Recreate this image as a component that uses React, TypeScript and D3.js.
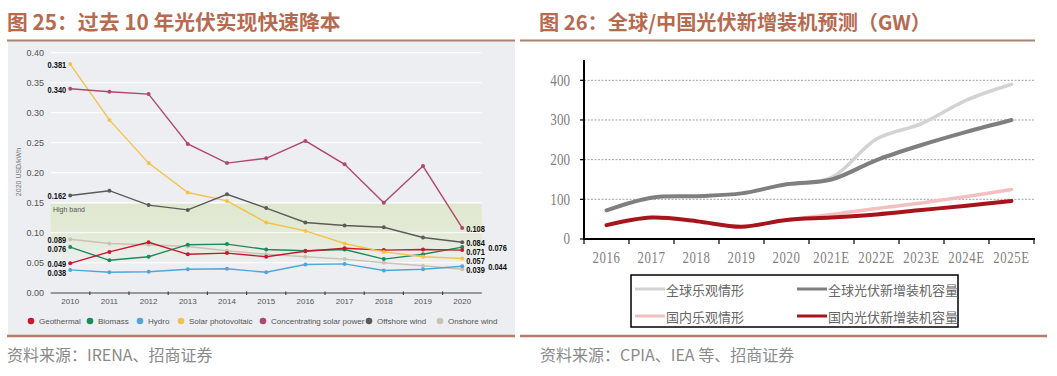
import React from "react";
import * as d3 from "d3";

// ---------- Left chart data (2020 USD/kWh) ----------
const years = ["2010", "2011", "2012", "2013", "2014", "2015", "2016", "2017", "2018", "2019", "2020"];
const geothermal = [0.049, 0.068, 0.084, 0.064, 0.066, 0.06, 0.069, 0.074, 0.071, 0.072, 0.071];
const biomass = [0.076, 0.054, 0.06, 0.08, 0.081, 0.072, 0.07, 0.072, 0.056, 0.064, 0.076];
const hydro = [0.038, 0.034, 0.035, 0.039, 0.04, 0.034, 0.047, 0.048, 0.037, 0.039, 0.044];
const solarPV = [0.381, 0.288, 0.216, 0.167, 0.153, 0.117, 0.103, 0.082, 0.068, 0.06, 0.057];
const csp = [0.34, 0.335, 0.331, 0.248, 0.216, 0.224, 0.253, 0.214, 0.15, 0.211, 0.108];
const offshoreWind = [0.162, 0.17, 0.146, 0.138, 0.164, 0.141, 0.117, 0.112, 0.109, 0.092, 0.084];
const onshoreWind = [0.089, 0.082, 0.08, 0.077, 0.07, 0.064, 0.06, 0.056, 0.05, 0.045, 0.039];
const leftTicks = [0, 0.05, 0.1, 0.15, 0.2, 0.25, 0.3, 0.35, 0.4];

// ---------- Right chart data (GW) ----------
const fcYears = ["2016", "2017", "2018", "2019", "2020", "2021E", "2022E", "2023E", "2024E", "2025E"];
const globalNew = [72, 104, 108, 115, 138, 150, 199, 237, 270, 300];
const globalOpt = [null, null, null, null, 138, 155, 252, 291, 350, 390];
const chinaNew = [35, 54, 45, 31, 48, 54, 62, 73, 84, 96];
const chinaOpt = [null, null, null, null, 48, 62, 77, 91, 107, 125];
const rightTicks = [0, 100, 200, 300, 400];

const leftSeries = [
  { name: "Onshore wind", color: "#c9c3b6", values: onshoreWind, side: "in" },
  { name: "Hydro", color: "#4fa6da", values: hydro, side: "out" },
  { name: "Biomass", color: "#1d8a5c", values: biomass, side: "out" },
  { name: "Geothermal", color: "#c8172f", values: geothermal, side: "in" },
  { name: "Solar photovoltaic", color: "#f4c24a", values: solarPV, side: "in" },
  { name: "Offshore wind", color: "#5b5b5b", values: offshoreWind, side: "in" },
  { name: "Concentrating solar power", color: "#b1466f", values: csp, side: "in" },
];
const legendOrder = ["Geothermal", "Biomass", "Hydro", "Solar photovoltaic", "Concentrating solar power", "Offshore wind", "Onshore wind"];

const rightSeries = [
  { name: "全球乐观情形", color: "#d3d3d3", values: globalOpt, width: 3.5 },
  { name: "国内乐观情形", color: "#f2c0c0", values: chinaOpt, width: 3.5 },
  { name: "全球光伏新增装机容量", color: "#7f7f7f", values: globalNew, width: 4 },
  { name: "国内光伏新增装机容量", color: "#a8141b", values: chinaNew, width: 4 },
];

const TITLE = "#b66a50";
const RULE = "#a68373";

// push labels apart so they keep a minimum vertical gap
function spread(items: { y: number; text: string; key: string }[], gap: number) {
  const sorted = [...items].sort((a, b) => a.y - b.y);
  for (let i = 1; i < sorted.length; i++) {
    if (sorted[i].y - sorted[i - 1].y < gap) sorted[i].y = sorted[i - 1].y + gap;
  }
  return sorted;
}

export default function App() {
  // Left scales
  const xL = d3.scalePoint<string>().domain(years).range([50.6, 481.8]).padding(0.5);
  const yL = d3.scaleLinear().domain([0, 0.4]).range([292.7, 52.7]);
  const stepL = xL.step();
  const lineL = d3
    .line<number>()
    .x((_, i) => xL(years[i]) as number)
    .y((d) => yL(d));

  // Right scales
  const xR = d3.scaleBand<string>().domain(fcYears).range([584, 1034]);
  const yR = d3.scaleLinear().domain([0, 400]).range([239, 80.3]);
  const cx = (i: number) => (xR(fcYears[i]) as number) + xR.bandwidth() / 2;
  const lineR = d3
    .line<number | null>()
    .defined((d) => d !== null)
    .x((_, i) => cx(i))
    .y((d) => yR(d as number))
    .curve(d3.curveCatmullRom.alpha(0.5));

  const lastX = xL(years[years.length - 1]) as number;
  const firstX = xL(years[0]) as number;

  const legendX = [31, 90, 140, 181, 263, 369, 440];

  const sans = "'Liberation Sans', Arial, sans-serif";
  const cjk = "'Noto Sans CJK SC', sans-serif";
  const serif = "'Liberation Serif', 'DejaVu Serif', serif";

  const firstLabels = spread(
    leftSeries.map((s) => ({ y: yL(s.values[0]) + 0.5, text: s.values[0].toFixed(3), key: s.name })),
    9
  );
  const lastIn = spread(
    leftSeries
      .filter((s) => s.side === "in")
      .map((s) => ({ y: yL(s.values[s.values.length - 1]) + 0.5, text: s.values[s.values.length - 1].toFixed(3), key: s.name })),
    9
  );
  const lastOut = spread(
    leftSeries
      .filter((s) => s.side === "out")
      .map((s) => ({ y: yL(s.values[s.values.length - 1]) + 0.5, text: s.values[s.values.length - 1].toFixed(3), key: s.name })),
    9
  );

  const valueLabel = (x: number, y: number, text: string, anchor: "start" | "end", key: string) => (
    <text
      key={key}
      transform={`translate(${x},${y}) scale(0.8,1)`}
      textAnchor={anchor}
      dominantBaseline="central"
      fontFamily={sans}
      fontWeight={700}
      fontSize={9.3}
      fill="#111"
    >
      {text}
    </text>
  );

  return (
    <div style={{ position: "absolute", left: 0, top: 0 }}>
      <svg width={1057} height={376} viewBox="0 0 1057 376" style={{ display: "block", background: "#fff" }}>
        <defs>
          <linearGradient id="band" x1="0" y1="0" x2="0" y2="1">
            <stop offset="0%" stopColor="#dfe8cf" stopOpacity={1} />
            <stop offset="55%" stopColor="#e2ead4" stopOpacity={0.9} />
            <stop offset="100%" stopColor="#e8eddf" stopOpacity={0.2} />
          </linearGradient>
        </defs>

        {/* ---------------- Left chart ---------------- */}
        <text x={7} y={30} fontFamily={cjk} fontWeight={700} fontSize={20.8} fill={TITLE}>
          图 25：过去 10 年光伏实现快速降本
        </text>
        <rect x={8} y={41} width={507} height={294} fill="#eceef1" />
        <line x1={7} x2={515} y1={40.5} y2={40.5} stroke={RULE} strokeWidth={2} />

        {/* high band */}
        <rect x={50.6} y={yL(0.148)} width={481.8 - 50.6} height={yL(0.05) - yL(0.148)} fill="url(#band)" />
        <text x={53} y={yL(0.148) + 8} fontFamily={sans} fontSize={7} fill="#555">
          High band
        </text>

        {/* gridlines */}
        {leftTicks
          .filter((t) => t > 0)
          .map((t) => (
            <line key={t} x1={50.6} x2={481.8} y1={yL(t)} y2={yL(t)} stroke="#ffffff" strokeWidth={1} />
          ))}
        {leftTicks.map((t) => (
          <text key={t} x={44} y={yL(t)} textAnchor="end" dominantBaseline="central" fontFamily={sans} fontSize={9} fill="#555">
            {t.toFixed(2)}
          </text>
        ))}
        <text
          transform={`translate(18,${172}) rotate(-90)`}
          textAnchor="middle"
          dominantBaseline="central"
          fontFamily={sans}
          fontSize={7}
          fill="#777"
        >
          2020 USD/kWh
        </text>

        {/* x axis */}
        <line x1={50.6} x2={481.8} y1={293} y2={293} stroke="#444" strokeWidth={1.2} />
        {years.map((yr, i) => (
          <g key={yr}>
            {i > 0 && (
              <line x1={(xL(yr) as number) - stepL / 2} x2={(xL(yr) as number) - stepL / 2} y1={291.5} y2={295} stroke="#444" strokeWidth={1.2} />
            )}
            <text x={xL(yr) as number} y={301} textAnchor="middle" dominantBaseline="central" fontFamily={sans} fontSize={8} fill="#555">
              {yr}
            </text>
          </g>
        ))}

        {/* series */}
        {leftSeries.map((s) => (
          <g key={s.name}>
            <path d={lineL(s.values) || ""} fill="none" stroke={s.color} strokeWidth={1.4} />
            {s.values.map((v, i) => (
              <circle key={i} cx={xL(years[i]) as number} cy={yL(v)} r={2} fill={s.color} />
            ))}
          </g>
        ))}

        {/* value labels */}
        {firstLabels.map((l) => valueLabel(firstX - 4, l.y, l.text, "end", "f" + l.key))}
        {lastIn.map((l) => valueLabel(lastX + 4, l.y, l.text, "start", "li" + l.key))}
        {lastOut.map((l) => valueLabel(lastX + 26, l.y, l.text, "start", "lo" + l.key))}

        {/* legend */}
        {legendOrder.map((name, i) => {
          const s = leftSeries.find((d) => d.name === name)!;
          return (
            <g key={name}>
              <circle cx={legendX[i]} cy={321} r={3.3} fill={s.color} />
              <text x={legendX[i] + 8} y={321} dominantBaseline="central" fontFamily={sans} fontSize={8} fill="#555">
                {name}
              </text>
            </g>
          );
        })}
        <line x1={7} x2={515} y1={336} y2={336} stroke="#b67c6b" strokeWidth={2.5} />
        <text x={7} y={361} fontFamily={cjk} fontSize={16} fill="#8a8a8a">
          资料来源：IRENA、招商证券
        </text>

        {/* ---------------- Right chart ---------------- */}
        <text x={539} y={30} fontFamily={cjk} fontWeight={700} fontSize={20.2} fill={TITLE}>
          图 26：全球/中国光伏新增装机预测（GW）
        </text>
        <line x1={520} x2={1035} y1={40.5} y2={40.5} stroke={RULE} strokeWidth={2} />

        {rightTicks
          .filter((t) => t > 0)
          .map((t) => (
            <line key={t} x1={584} x2={1034} y1={yR(t)} y2={yR(t)} stroke="#8c8c8c" strokeWidth={0.8} strokeDasharray="2,1.5" />
          ))}
        {rightTicks.map((t) => (
          <g key={t}>
            <line x1={580} x2={584} y1={yR(t)} y2={yR(t)} stroke="#000" strokeWidth={1.2} />
            <text
              transform={`translate(570,${yR(t)}) scale(0.82,1)`}
              textAnchor="end"
              dominantBaseline="central"
              fontFamily={serif}
              fontSize={16}
              fill="#808080"
            >
              {t}
            </text>
          </g>
        ))}

        {rightSeries.map((s) => (
          <path key={s.name} d={lineR(s.values) || ""} fill="none" stroke={s.color} strokeWidth={s.width} strokeLinecap="round" />
        ))}

        <line x1={584} x2={584} y1={60} y2={240} stroke="#000" strokeWidth={2} />
        <line x1={583} x2={1035} y1={239} y2={239} stroke="#000" strokeWidth={2} />
        {fcYears.map((yr) => (
          <line key={"t" + yr} x1={xR(yr) as number} x2={xR(yr) as number} y1={239} y2={244} stroke="#000" strokeWidth={1.2} />
        ))}
        <line x1={1034} x2={1034} y1={239} y2={244} stroke="#000" strokeWidth={1.2} />
        {fcYears.map((yr, i) => (
          <text
            key={yr}
            transform={`translate(${cx(i)},257) scale(0.8,1)`}
            textAnchor="middle"
            dominantBaseline="central"
            fontFamily={serif}
            fontSize={16}
            fill="#808080"
            letterSpacing={0.8}
          >
            {yr}
          </text>
        ))}

        {/* legend */}
        <rect x={631} y={275} width={327} height={52} fill="#fff" stroke="#000" strokeWidth={1.5} />
        {[
          { s: rightSeries[0], x: 635, y: 289 },
          { s: rightSeries[2], x: 797, y: 289 },
          { s: rightSeries[1], x: 635, y: 316 },
          { s: rightSeries[3], x: 797, y: 316 },
        ].map(({ s, x, y }) => (
          <g key={s.name + "leg"}>
            <line x1={x} x2={x + 30} y1={y} y2={y} stroke={s.color} strokeWidth={3} />
            <text x={x + 31} y={y} dominantBaseline="central" fontFamily={cjk} fontSize={13} fill="#666">
              {s.name}
            </text>
          </g>
        ))}

        <line x1={520} x2={1047} y1={336} y2={336} stroke="#b67c6b" strokeWidth={2.5} />
        <text x={540} y={361} fontFamily={cjk} fontSize={16} fill="#8a8a8a">
          资料来源：CPIA、IEA 等、招商证券
        </text>
      </svg>
    </div>
  );
}
